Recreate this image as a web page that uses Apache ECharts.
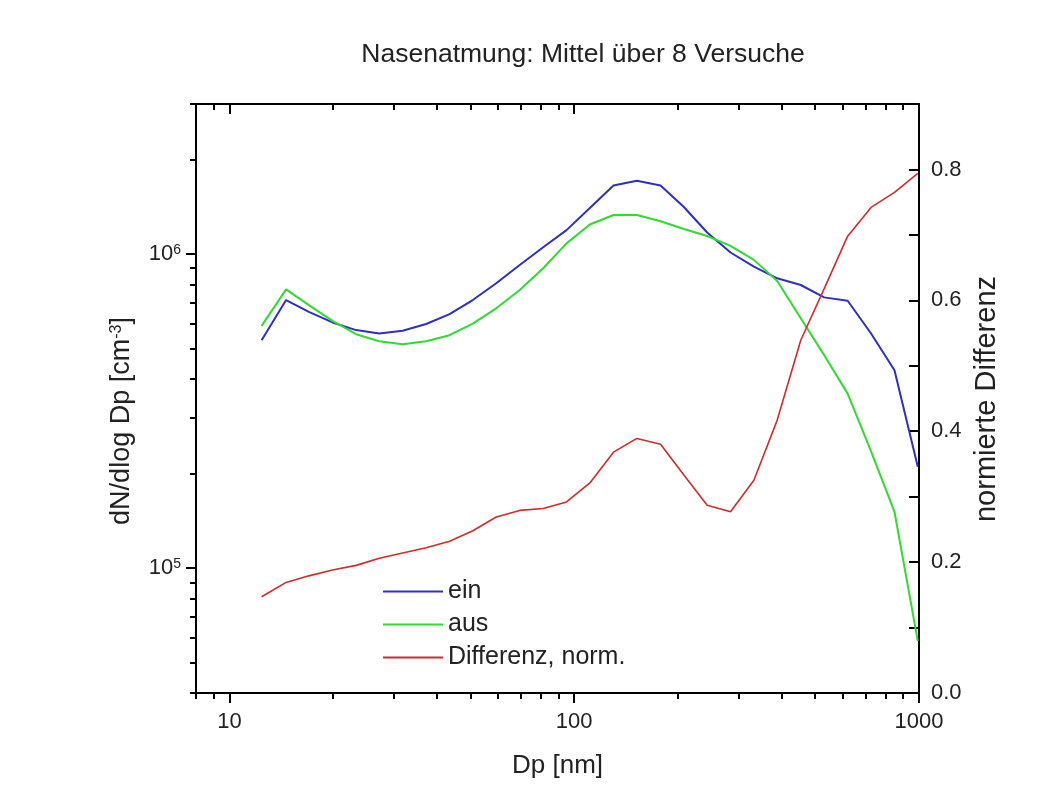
<!DOCTYPE html>
<html>
<head>
<meta charset="utf-8">
<title>Nasenatmung</title>
<script src="https://cdn.jsdelivr.net/npm/echarts@6/dist/echarts.min.js"></script>
<style>
html, body { margin: 0; padding: 0; background: #fff; }
#main { width: 1050px; height: 798px; }
</style>
</head>
<body>
<div id="main"></div>
<script>
// Partikeldurchmesser Dp [nm]
const dp = [12.4, 14.6, 17.0, 19.9, 23.3, 27.2, 31.8, 37.2, 43.5, 50.8, 59.4, 69.5, 81.3, 95.0, 111, 130, 152, 178, 208, 243, 284, 332, 388, 454, 531, 621, 726, 849, 992];
// dN/dlog Dp [cm^-3]
const ein = [5.31e5, 7.13e5, 6.54e5, 6.05e5, 5.72e5, 5.58e5, 5.69e5, 5.98e5, 6.43e5, 7.13e5, 8.06e5, 9.22e5, 1.05e6, 1.19e6, 1.40e6, 1.65e6, 1.71e6, 1.65e6, 1.41e6, 1.17e6, 1.01e6, 9.11e5, 8.36e5, 7.96e5, 7.27e5, 7.09e5, 5.58e5, 4.26e5, 2.10e5];
const aus = [5.90e5, 7.71e5, 6.87e5, 6.12e5, 5.55e5, 5.27e5, 5.16e5, 5.27e5, 5.51e5, 6.00e5, 6.71e5, 7.67e5, 9.00e5, 1.08e6, 1.24e6, 1.33e6, 1.33e6, 1.27e6, 1.20e6, 1.14e6, 1.06e6, 9.57e5, 8.20e5, 6.24e5, 4.76e5, 3.59e5, 2.35e5, 1.51e5, 5.85e4];
// normierte Differenz (rechte Achse)
const diffNorm = [0.147, 0.169, 0.179, 0.188, 0.195, 0.206, 0.214, 0.222, 0.232, 0.248, 0.269, 0.279, 0.282, 0.292, 0.321, 0.368, 0.389, 0.380, 0.333, 0.287, 0.277, 0.325, 0.417, 0.539, 0.618, 0.698, 0.742, 0.765, 0.794];

// Achsenteilung
const xMajorTicks = [10, 100, 1000];
const xMinorTicks = [8, 9, 20, 30, 40, 50, 60, 70, 80, 90, 200, 300, 400, 500, 600, 700, 800, 900];
const yMajorTicks = [1e5, 1e6];
const yMinorTicks = [4e4, 5e4, 6e4, 7e4, 8e4, 9e4, 2e5, 3e5, 4e5, 5e5, 6e5, 7e5, 8e5, 9e5, 2e6, 3e6];

const FONT = "'Liberation Sans', Arial, sans-serif";
const TXT = "#222";
const axisLine = { show: true, lineStyle: { color: "#000", width: 2 } };
const noLine = { show: false };

const myChart = echarts.init(document.getElementById("main"));

// zwei deckungsgleiche Grids: eins für Haupt-, eins für Nebenstriche
const gridBox = { left: 196, right: 131, top: 104, bottom: 105, outerBoundsMode: "none" };

const option = {
  animation: false,
  backgroundColor: "#fff",
  grid: [Object.assign({}, gridBox), Object.assign({}, gridBox)],
  xAxis: [
    {
      type: "log", logBase: 10, min: 8, max: 1000, gridIndex: 0, position: "bottom",
      name: "Dp [nm]", nameLocation: "middle", nameGap: 60,
      nameTextStyle: { fontSize: 26, fontFamily: FONT, color: TXT },
      axisLine: axisLine,
      axisTick: { customValues: xMajorTicks, length: 10, lineStyle: { color: "#000", width: 2 } },
      axisLabel: {
        customValues: xMajorTicks, margin: 18, fontSize: 22, fontFamily: FONT, color: TXT,
        formatter: function (v) { return String(Math.round(v)); }
      },
      splitLine: { show: false }
    },
    {
      type: "log", logBase: 10, min: 8, max: 1000, gridIndex: 0, position: "top",
      axisLine: axisLine,
      axisTick: { customValues: xMajorTicks, inside: true, length: 10, lineStyle: { color: "#000", width: 2 } },
      axisLabel: { show: false },
      splitLine: { show: false }
    },
    {
      type: "log", logBase: 10, min: 8, max: 1000, gridIndex: 1, position: "bottom",
      axisLine: noLine,
      axisTick: { customValues: xMinorTicks, length: 6, lineStyle: { color: "#000", width: 2 } },
      axisLabel: { show: false },
      splitLine: { show: false }
    },
    {
      type: "log", logBase: 10, min: 8, max: 1000, gridIndex: 1, position: "top",
      axisLine: noLine,
      axisTick: { customValues: xMinorTicks, inside: true, length: 6, lineStyle: { color: "#000", width: 2 } },
      axisLabel: { show: false },
      splitLine: { show: false }
    }
  ],
  yAxis: [
    {
      type: "log", logBase: 10, min: 4e4, max: 3e6, gridIndex: 0, position: "left",
      axisLine: axisLine,
      axisTick: { customValues: yMajorTicks, length: 10, lineStyle: { color: "#000", width: 2 } },
      axisLabel: {
        customValues: yMajorTicks, margin: 15, color: TXT,
        formatter: function (v) {
          return "{b|10}{s|" + Math.round(Math.log10(v)) + "}";
        },
        rich: {
          b: { fontSize: 22, fontFamily: FONT, color: TXT, verticalAlign: "bottom" },
          s: { fontSize: 14, fontFamily: FONT, color: TXT, verticalAlign: "top" }
        }
      },
      splitLine: { show: false }
    },
    {
      type: "value", min: 0, max: 0.9, interval: 0.1, gridIndex: 0, position: "right",
      axisLine: axisLine,
      axisTick: { inside: true, length: 10, lineStyle: { color: "#000", width: 2 } },
      axisLabel: {
        margin: 12, fontSize: 22, fontFamily: FONT, color: TXT,
        formatter: function (v) {
          const k = Math.round(v * 10);
          return (k % 2 === 0 && k <= 8) ? v.toFixed(1) : "";
        }
      },
      splitLine: { show: false }
    },
    {
      type: "log", logBase: 10, min: 4e4, max: 3e6, gridIndex: 1, position: "left",
      axisLine: noLine,
      axisTick: { customValues: yMinorTicks, length: 6, lineStyle: { color: "#000", width: 2 } },
      axisLabel: { show: false },
      splitLine: { show: false }
    }
  ],
  legend: {
    orient: "vertical", left: 383, top: 579, padding: 0,
    icon: "rect", itemWidth: 60, itemHeight: 2, itemGap: 8,
    textStyle: { fontSize: 25, fontFamily: FONT, color: TXT, lineHeight: 24 },
    data: ["ein", "aus", "Differenz, norm."]
  },
  graphic: [
    {
      type: "text", x: 583, y: 55,
      style: { text: "Nasenatmung: Mittel über 8 Versuche", fontSize: 26.5, fontFamily: FONT, fill: TXT, align: "center", verticalAlign: "middle" }
    },
    {
      type: "text", x: 122, y: 421, rotation: Math.PI / 2,
      style: {
        text: "dN/dlog Dp [cm{s|-3}]", fontSize: 27, fontFamily: FONT, fill: TXT, align: "center", verticalAlign: "middle",
        rich: { s: { fontSize: 16, fontFamily: FONT, fill: TXT, verticalAlign: "top" } }
      }
    },
    {
      type: "text", x: 987, y: 399, rotation: Math.PI / 2,
      style: { text: "normierte Differenz", fontSize: 29, fontFamily: FONT, fill: TXT, align: "center", verticalAlign: "middle" }
    }
  ],
  series: [
    {
      name: "ein", type: "line", xAxisIndex: 0, yAxisIndex: 0, symbol: "none",
      data: dp.map(function (d, i) { return [d, ein[i]]; }),
      lineStyle: { color: "#2f2fc4", width: 2 },
      itemStyle: { color: "#2f2fc4" }
    },
    {
      name: "aus", type: "line", xAxisIndex: 0, yAxisIndex: 0, symbol: "none",
      data: dp.map(function (d, i) { return [d, aus[i]]; }),
      lineStyle: { color: "#2fdc2f", width: 2 },
      itemStyle: { color: "#2fdc2f" }
    },
    {
      name: "Differenz, norm.", type: "line", xAxisIndex: 0, yAxisIndex: 1, symbol: "none",
      data: dp.map(function (d, i) { return [d, diffNorm[i]]; }),
      lineStyle: { color: "#d42a2a", width: 1.6 },
      itemStyle: { color: "#d42a2a" }
    }
  ]
};

myChart.setOption(option);
</script>
</body>
</html>
